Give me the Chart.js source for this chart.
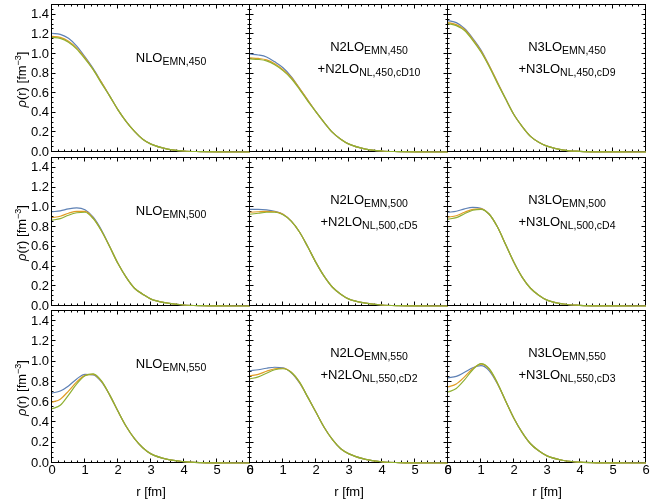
<!DOCTYPE html>
<html><head><meta charset="utf-8">
<script src="https://cdn.jsdelivr.net/npm/chart.js@4.4.1/dist/chart.umd.min.js"></script>
<style>
html,body{margin:0;padding:0;background:#fff;}
#wrap{position:relative;width:651px;height:502px;overflow:hidden;background:#fff;}
#wrap canvas{position:absolute;}
</style></head><body><div id="wrap"></div>
<script>
// ---------- data ----------
const r = [0,0.25,0.5,0.75,1,1.25,1.5,1.75,2,2.25,2.5,2.75,3,3.5,4,4.5,5,5.5,6];
const xTicks = [0,1,2,3,4,5,6];
const yTicks = [0,0.2,0.4,0.6,0.8,1.0,1.2,1.4];
const orders = ['NLO','N2LO','N3LO'];
const cutoffs = ['450','500','550'];
const cDs = [[null,'cD10','cD9'],[null,'cD5','cD4'],[null,'cD2','cD3']];

// cutoff 450
const nlo450_b  = [1.21,1.20,1.16,1.08,0.97,0.85,0.71,0.57,0.43,0.31,0.21,0.13,0.08,0.03,0.01,0.004,0.001,0,0];
const nlo450_o  = [1.18,1.17,1.13,1.06,0.96,0.84,0.71,0.57,0.43,0.31,0.21,0.13,0.08,0.03,0.01,0.004,0.001,0,0];
const nlo450_g  = [1.17,1.16,1.12,1.05,0.95,0.84,0.70,0.57,0.43,0.31,0.21,0.13,0.08,0.03,0.01,0.004,0.001,0,0];
const n2lo450_b = [1.00,0.99,0.97,0.92,0.86,0.77,0.65,0.53,0.41,0.30,0.20,0.13,0.08,0.03,0.01,0.004,0.001,0,0];
const n2lo450_o = [0.96,0.955,0.94,0.90,0.84,0.76,0.65,0.53,0.41,0.30,0.20,0.13,0.08,0.03,0.01,0.004,0.001,0,0];
const n2lo450_g = [0.95,0.945,0.93,0.89,0.83,0.75,0.64,0.52,0.41,0.30,0.20,0.13,0.08,0.03,0.01,0.004,0.001,0,0];
const n3lo450_b = [1.34,1.32,1.26,1.16,1.04,0.88,0.71,0.54,0.38,0.26,0.16,0.10,0.06,0.02,0.007,0.002,0.001,0,0];
const n3lo450_o = [1.32,1.30,1.25,1.15,1.03,0.88,0.71,0.54,0.38,0.26,0.16,0.10,0.06,0.02,0.007,0.002,0.001,0,0];
const n3lo450_g = [1.31,1.29,1.24,1.14,1.02,0.87,0.70,0.54,0.38,0.26,0.16,0.10,0.06,0.02,0.007,0.002,0.001,0,0];
// cutoff 500
const nlo500_b  = [0.955,0.965,0.985,0.995,0.975,0.90,0.77,0.60,0.43,0.29,0.18,0.12,0.07,0.03,0.01,0.003,0.001,0,0];
const nlo500_o  = [0.895,0.91,0.94,0.96,0.96,0.89,0.76,0.60,0.43,0.29,0.18,0.12,0.07,0.03,0.01,0.003,0.001,0,0];
const nlo500_g  = [0.87,0.885,0.92,0.945,0.95,0.885,0.76,0.60,0.43,0.29,0.18,0.12,0.07,0.03,0.01,0.003,0.001,0,0];
const n2lo500_b = [0.98,0.98,0.975,0.96,0.93,0.86,0.75,0.60,0.44,0.30,0.19,0.12,0.07,0.03,0.01,0.003,0.001,0,0];
const n2lo500_o = [0.95,0.955,0.96,0.955,0.93,0.86,0.75,0.60,0.44,0.30,0.19,0.12,0.07,0.03,0.01,0.003,0.001,0,0];
const n2lo500_g = [0.93,0.94,0.95,0.95,0.925,0.86,0.75,0.60,0.44,0.30,0.19,0.12,0.07,0.03,0.01,0.003,0.001,0,0];
const n3lo500_b = [0.95,0.96,0.985,1.0,0.99,0.93,0.80,0.62,0.44,0.29,0.18,0.11,0.06,0.02,0.007,0.002,0.001,0,0];
const n3lo500_o = [0.90,0.915,0.95,0.98,0.985,0.93,0.80,0.62,0.44,0.29,0.18,0.11,0.06,0.02,0.007,0.002,0.001,0,0];
const n3lo500_g = [0.88,0.895,0.935,0.97,0.98,0.93,0.80,0.62,0.44,0.29,0.18,0.11,0.06,0.02,0.007,0.002,0.001,0,0];
// cutoff 550
const nlo550_b  = [0.69,0.71,0.76,0.83,0.875,0.87,0.80,0.67,0.51,0.36,0.24,0.15,0.09,0.035,0.013,0.004,0.001,0,0];
const nlo550_o  = [0.60,0.63,0.71,0.80,0.865,0.875,0.805,0.67,0.51,0.36,0.24,0.15,0.09,0.035,0.013,0.004,0.001,0,0];
const nlo550_g  = [0.535,0.57,0.67,0.78,0.86,0.88,0.81,0.67,0.51,0.36,0.24,0.15,0.09,0.035,0.013,0.004,0.001,0,0];
const n2lo550_b = [0.91,0.92,0.935,0.945,0.94,0.89,0.79,0.65,0.50,0.35,0.23,0.14,0.09,0.035,0.012,0.004,0.001,0,0];
const n2lo550_o = [0.86,0.875,0.905,0.93,0.935,0.895,0.795,0.65,0.50,0.35,0.23,0.14,0.09,0.035,0.012,0.004,0.001,0,0];
const n2lo550_g = [0.83,0.85,0.885,0.92,0.93,0.895,0.80,0.65,0.50,0.35,0.23,0.14,0.09,0.035,0.012,0.004,0.001,0,0];
const n3lo550_b = [0.84,0.855,0.895,0.94,0.96,0.91,0.78,0.61,0.44,0.30,0.19,0.12,0.07,0.025,0.008,0.002,0.001,0,0];
const n3lo550_o = [0.75,0.78,0.85,0.93,0.975,0.925,0.785,0.61,0.44,0.30,0.19,0.12,0.07,0.025,0.008,0.002,0.001,0,0];
const n3lo550_g = [0.70,0.735,0.82,0.92,0.98,0.93,0.79,0.61,0.44,0.30,0.19,0.12,0.07,0.025,0.008,0.002,0.001,0,0];

const panelData = [
  [[nlo450_b,nlo450_o,nlo450_g],[n2lo450_b,n2lo450_o,n2lo450_g],[n3lo450_b,n3lo450_o,n3lo450_g]],
  [[nlo500_b,nlo500_o,nlo500_g],[n2lo500_b,n2lo500_o,n2lo500_g],[n3lo500_b,n3lo500_o,n3lo500_g]],
  [[nlo550_b,nlo550_o,nlo550_g],[n2lo550_b,n2lo550_o,n2lo550_g],[n3lo550_b,n3lo550_o,n3lo550_g]]
];

// ---------- layout / style ----------
const colors = ['#5E81B5','#E19C24','#8FB032'];
const FONT = "'Liberation Sans', Arial, sans-serif";
const colX = [52,250,448];
const rowTop = [5,158,311];
const rowBot = [152,306,463];
const W = 198, ML = 50, MT = 12, MR = 12, MB = 40;

const wrap = document.getElementById('wrap');

function drawRich(ctx, parts, x, y, align) {
  // parts: [{t, size, dy, italic}]
  let total = 0;
  parts.forEach(p => { ctx.font = (p.italic?'italic ':'') + p.size + 'px ' + FONT; p.w = ctx.measureText(p.t).width; total += p.w; });
  let cx = align === 'center' ? x - total/2 : x;
  parts.forEach(p => {
    ctx.font = (p.italic?'italic ':'') + p.size + 'px ' + FONT;
    ctx.fillText(p.t, cx, y + (p.dy||0));
    cx += p.w;
  });
}

function makePanel(i, j) {
  const h = rowBot[i] - rowTop[i];
  const cv = document.createElement('canvas');
  const cw = ML + W + MR, ch = MT + h + MB;
  cv.width = cw; cv.height = ch;
  cv.style.width = cw + 'px'; cv.style.height = ch + 'px';
  cv.style.left = (colX[j] - ML) + 'px';
  cv.style.top = (rowTop[i] - MT) + 'px';
  wrap.appendChild(cv);

  const frame = {
    id: 'frame' + i + j,
    beforeDatasetsDraw(chart) {
      const {ctx, chartArea: a, scales} = chart;
      const L = a.left - 0.5, R = a.right - 0.5, T = a.top - 0.5, B = a.bottom - 0.5;
      ctx.save();
      ctx.strokeStyle = '#000';
      ctx.lineWidth = 1;
      ctx.strokeRect(L, T, R - L, B - T);
      ctx.beginPath();
      for (let k = 0; k <= 30; k++) {
        const v = k * 0.2;
        const x = Math.round(scales.x.getPixelForValue(v)) - 0.5;
        const len = (k % 5 === 0) ? 4 : 2;
        ctx.moveTo(x, B); ctx.lineTo(x, B - len);
        ctx.moveTo(x, T); ctx.lineTo(x, T + len);
      }
      for (let k = 0; k <= 30; k++) {
        const v = k * 0.05;
        const y = Math.round(scales.y.getPixelForValue(v)) - 0.5;
        const len = (k % 4 === 0) ? 4 : 2;
        ctx.moveTo(L, y); ctx.lineTo(L + len, y);
        ctx.moveTo(R, y); ctx.lineTo(R - len, y);
      }
      ctx.stroke();
      ctx.restore();
    },
    afterDraw(chart) {
      const {ctx, chartArea: a} = chart;
      ctx.save();
      ctx.fillStyle = '#000';
      ctx.textBaseline = 'alphabetic';
      const cx = a.left + 119;
      const ord = orders[j], cut = cutoffs[i], cd = cDs[i][j];
      if (cd === null) {
        drawRich(ctx, [{t:ord,size:13},{t:'EMN,'+cut,size:10.5,dy:3.5}], cx, a.top + 56.5, 'center');
      } else {
        drawRich(ctx, [{t:ord,size:13},{t:'EMN,'+cut,size:10.5,dy:3.5}], cx, a.top + 45.5, 'center');
        drawRich(ctx, [{t:'+'+ord,size:13},{t:'NL,'+cut+','+cd,size:10.5,dy:3.5}], cx, a.top + 67.5, 'center');
      }
      if (j === 0) {
        ctx.translate(a.left - 31, (a.top + a.bottom)/2 + 1);
        ctx.rotate(-Math.PI/2);
        drawRich(ctx, [{t:'\u03C1',size:13,italic:true},{t:'(r) [fm',size:13},{t:'\u22123',size:9,dy:-5},{t:']',size:13}], 0, 4.5, 'center');
      }
      ctx.restore();
    }
  };

  const ds = panelData[i][j].map((vals, k) => ({
    label: ['b','o','g'][k],
    data: r.map((x, n) => ({x: x, y: vals[n]})),
    borderColor: colors[k],
    borderWidth: 1.2,
    pointRadius: 0,
    fill: false,
    cubicInterpolationMode: 'monotone',
    clip: false,
    order: 2 - k
  }));

  new Chart(cv, {
    type: 'line',
    data: { datasets: ds },
    options: {
      responsive: false, animation: false, devicePixelRatio: 1,
      layout: { padding: { top: MT, right: MR, left: 0, bottom: 0 } },
      plugins: { legend: { display: false }, tooltip: { enabled: false } },
      scales: {
        x: {
          type: 'linear', min: 0, max: 6,
          grid: { display: false, drawTicks: false },
          border: { display: false },
          ticks: { display: i === 2, padding: 0, color: '#000', font: { family: FONT, size: 13 }, maxRotation: 0, autoSkip: false,
                   callback: v => String(v) },
          afterBuildTicks: s => { s.ticks = xTicks.map(v => ({ value: v })); },
          afterFit: s => { s.height = MB; },
          title: { display: i === 2, text: 'r [fm]', color: '#000', font: { family: FONT, size: 13 }, padding: { top: 0, bottom: 3 } }
        },
        y: {
          type: 'linear', min: 0, max: 1.5,
          grid: { display: false, drawTicks: false },
          border: { display: false },
          ticks: { display: j === 0, padding: 3, color: '#000', font: { family: FONT, size: 13 }, autoSkip: false,
                   callback: v => Number(v).toFixed(1) },
          afterBuildTicks: s => { s.ticks = yTicks.map(v => ({ value: v })); },
          afterFit: s => { s.width = ML; }
        }
      }
    },
    plugins: [frame]
  });
}

for (let i = 0; i < 3; i++) for (let j = 0; j < 3; j++) makePanel(i, j);
</script>
</body></html>
